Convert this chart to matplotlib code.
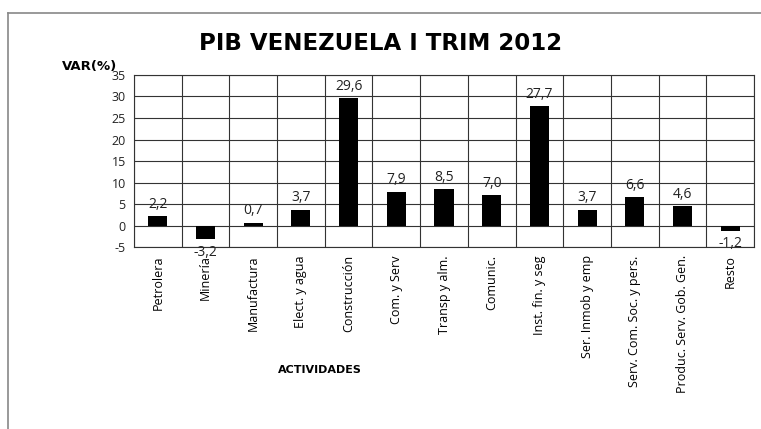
import matplotlib.pyplot as plt
from matplotlib.lines import Line2D

# PIB Venezuela, variacion % por actividad, I trimestre 2012
actividades = ["Petrolera", "Minería", "Manufactura", "Elect. y agua", "Construcción",
               "Com. y Serv", "Transp y alm.", "Comunic.", "Inst. fin. y seg",
               "Ser. Inmob y emp", "Serv. Com. Soc. y pers.", "Produc. Serv. Gob. Gen.",
               "Resto"]
variacion = [2.2, -3.2, 0.7, 3.7, 29.6, 7.9, 8.5, 7.0, 27.7, 3.7, 6.6, 4.6, -1.2]
yticks = [-5, 0, 5, 10, 15, 20, 25, 30, 35]

plt.rcParams['font.family'] = ['Open Sans', 'DejaVu Sans']
bold_font = ['DejaVu Sans']

fig = plt.figure(figsize=(7.61, 4.29), dpi=100)
ax = fig.add_axes([0.1761, 0.4242, 0.8147, 0.4010])

x = list(range(len(actividades)))
ax.bar(x, variacion, width=0.4, color="black", zorder=3)

ax.set_xlim(-0.5, len(actividades) - 0.5)
ax.set_ylim(-5, 35)
ax.set_yticks(yticks)
ax.set_yticklabels([str(v) for v in yticks], fontsize=9, color="#222222")
ax.set_xticks(x)
ax.set_xticklabels(actividades, rotation=90, fontsize=9)
ax.tick_params(axis="x", length=0, pad=6)
ax.tick_params(axis="y", length=0, pad=6)

# grid: horizontal at each tick, vertical between categories
for v in yticks:
    ax.axhline(v, color="#333333", lw=0.8, zorder=1)
for i in range(len(actividades) + 1):
    ax.axvline(i - 0.5, color="#333333", lw=0.8, zorder=1)
for s in ax.spines.values():
    s.set_color("#333333")
    s.set_linewidth(0.8)

# value labels, comma as decimal separator
for xi, v in zip(x, variacion):
    txt = f"{v:.1f}".replace(".", ",")
    if v >= 0:
        ax.annotate(txt, (xi, v), xytext=(0, 3), textcoords="offset points",
                    ha="center", va="bottom", fontsize=10, color="#222222",
                    zorder=5, annotation_clip=False)
    else:
        ax.annotate(txt, (xi, v), xytext=(0, -4), textcoords="offset points",
                    ha="center", va="top", fontsize=10, color="#222222",
                    zorder=5, annotation_clip=False)

fig.text(0.500, 0.899, "PIB VENEZUELA I TRIM 2012", ha="center", va="center",
         fontsize=16.5, fontweight="bold", family=bold_font)
fig.text(0.082, 0.846, "VAR(%)", ha="left", va="center", fontsize=9.5,
         fontweight="bold", family=bold_font)
fig.text(0.42, 0.138, "ACTIVIDADES", ha="center", va="center", fontsize=8,
         fontweight="bold", family=bold_font)

# outer chart border
fig.add_artist(Line2D([0.0105, 0.0105], [0.0, 0.970], color="#888888", lw=1.2))
fig.add_artist(Line2D([0.0105, 1.0], [0.970, 0.970], color="#888888", lw=1.2))

fig.savefig("out.png", dpi=100)
